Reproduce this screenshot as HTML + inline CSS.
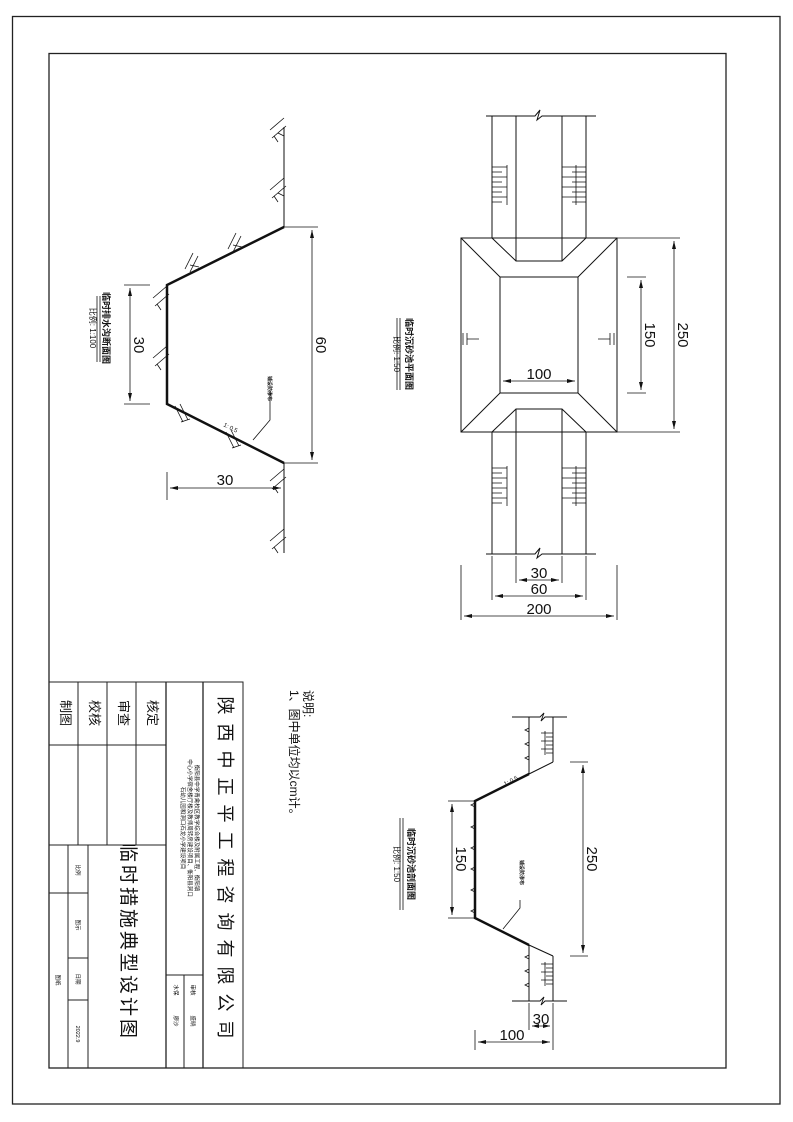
<!DOCTYPE html>
<html><head><meta charset="utf-8"><style>
html,body{margin:0;padding:0;background:#fff}
svg{display:block}
text{font-family:"Liberation Sans","Noto Sans CJK SC",sans-serif;fill:#111}
</style></head><body>
<svg width="793" height="1122" viewBox="0 0 793 1122" xmlns="http://www.w3.org/2000/svg">
<g fill="none" stroke="#222" stroke-width="1">
<rect x="12.5" y="16.5" width="767.5" height="1087.5" stroke-width="1.3"/>
<rect x="49" y="53.5" width="677" height="1014.5" stroke-width="1.3"/>
<rect x="49" y="682" width="194" height="386"/>
<line x1="203" y1="682" x2="203" y2="1068" stroke-width="1.3"/>
<line x1="166" y1="682" x2="166" y2="1068" stroke-width="1.3"/>
<line x1="78" y1="682" x2="78" y2="845"/>
<line x1="107" y1="682" x2="107" y2="845"/>
<line x1="136" y1="682" x2="136" y2="845"/>
<line x1="49" y1="745" x2="166" y2="745"/>
<line x1="49" y1="845" x2="166" y2="845"/>
<line x1="68" y1="845" x2="68" y2="1068"/>
<line x1="88" y1="845" x2="88" y2="1068"/>
<line x1="49" y1="893" x2="88" y2="893"/>
<line x1="68" y1="958" x2="88" y2="958"/>
<line x1="68" y1="1000" x2="88" y2="1000"/>
<line x1="166" y1="975" x2="203" y2="975"/>
<line x1="184" y1="975" x2="184" y2="1068"/>
</g>
<g font-size="13">
<text transform="translate(61,713) rotate(90)" text-anchor="middle">制图</text>
<text transform="translate(90,713) rotate(90)" text-anchor="middle">校核</text>
<text transform="translate(119,713) rotate(90)" text-anchor="middle">审查</text>
<text transform="translate(148,713) rotate(90)" text-anchor="middle">核定</text>
</g>
<text transform="translate(219,872) rotate(90)" text-anchor="middle" font-size="18" letter-spacing="9">陕西中正平工程咨询有限公司</text>
<text transform="translate(122,942) rotate(90)" text-anchor="middle" font-size="19" letter-spacing="3">临时措施典型设计图</text>
<g font-size="5.5">
<text transform="translate(195,828) rotate(90)" text-anchor="middle">衡阳县中学青禽校区教学综合楼及附属工程、衡阳镇</text>
<text transform="translate(188,828) rotate(90)" text-anchor="middle">中心小学宿舍楼厅楼及教师周转房建设项目、衡阳县洞口</text>
<text transform="translate(181,828) rotate(90)" text-anchor="middle">石幼儿园和洞口石龙小学建设项目</text>
<text transform="translate(76,870) rotate(90)" text-anchor="middle">比例</text>
<text transform="translate(76,925) rotate(90)" text-anchor="middle">图示</text>
<text transform="translate(76,979) rotate(90)" text-anchor="middle">日期</text>
<text transform="translate(76,1034) rotate(90)" text-anchor="middle">2022.9</text>
<text transform="translate(56,980) rotate(90)" text-anchor="middle">图纸</text>
<text transform="translate(191,990) rotate(90)" text-anchor="middle">审核</text>
<text transform="translate(191,1021) rotate(90)" text-anchor="middle">盛晓</text>
<text transform="translate(174,990) rotate(90)" text-anchor="middle">水保</text>
<text transform="translate(174,1021) rotate(90)" text-anchor="middle">廖沙</text>
</g>

<g fill="none" stroke="#111">
<line x1="284" y1="127" x2="284" y2="227"/>
<line x1="284" y1="463" x2="284" y2="553"/>
<polyline points="284,227 167,285 167,404 284,463" stroke-width="2.5"/>
<line x1="284" y1="227" x2="318" y2="227" stroke-width="0.8"/>
<line x1="284" y1="463" x2="318" y2="463" stroke-width="0.8"/>
<line x1="312" y1="230" x2="312" y2="460" stroke-width="0.8"/>
<line x1="124" y1="285" x2="150" y2="285" stroke-width="0.8"/>
<line x1="124" y1="404" x2="150" y2="404" stroke-width="0.8"/>
<line x1="130" y1="288" x2="130" y2="401" stroke-width="0.8"/>
<line x1="167" y1="472" x2="167" y2="500" stroke-width="0.8"/>
<line x1="170" y1="488" x2="281" y2="488" stroke-width="0.8"/>
<polyline points="270,390 270,420 253,440" stroke-width="0.8"/>
<line x1="97" y1="296" x2="97" y2="362" stroke-width="0.8"/>
<line x1="100" y1="296" x2="100" y2="362" stroke-width="0.8"/>
<g stroke-width="0.8">
<path d="M270,130 l14,-12 M272,138 l14,-12 M274,136 l4,6 M278,133 l6,3"/>
<path d="M270,190 l14,-12 M272,198 l14,-12 M274,196 l4,6 M278,193 l6,3"/>
<path d="M270,481 l14,-12 M272,489 l14,-12 M274,487 l4,6"/>
<path d="M270,541 l14,-12 M272,549 l14,-12 M274,547 l4,6"/>
<path d="M236,233 l-8,16 M241,236 l-8,16 M233,245 l9,2"/>
<path d="M193,253 l-8,16 M198,256 l-8,16 M190,265 l9,2"/>
<path d="M153,298 l14,-12 M155,306 l14,-12 M157,304 l4,6"/>
<path d="M153,358 l14,-12 M155,366 l14,-12 M157,364 l4,6"/>
<path d="M183,422 l-8,-16 M188,420 l-8,-16 M181,422 l9,-3"/>
<path d="M234,448 l-8,-16 M239,446 l-8,-16 M232,448 l9,-3"/>
</g>
</g>
<g stroke="none" fill="#111">
<path d="M312,230 l-2,8 h4z M312,460 l-2,-8 h4z M130,288 l-2,8 h4z M130,401 l-2,-8 h4z M170,488 l8,-2 v4z M281,488 l-8,-2 v4z"/>
</g>
<text transform="translate(316,345) rotate(90)" text-anchor="middle" font-size="15">60</text>
<text transform="translate(134,345) rotate(90)" text-anchor="middle" font-size="15">30</text>
<text x="225" y="485" text-anchor="middle" font-size="15">30</text>
<text transform="translate(223,426) rotate(27)" font-size="6">1: 0.5</text>
<text transform="translate(268,376) rotate(90)" font-size="5" font-weight="bold">铺设防渗布</text>
<text transform="translate(103,328) rotate(90)" text-anchor="middle" font-size="9" font-weight="bold">临时排水沟断面图</text>
<text transform="translate(90,328) rotate(90)" text-anchor="middle" font-size="8">比例: 1:100</text>

<g fill="none" stroke="#111" stroke-width="1">
<rect x="461" y="238" width="156" height="194"/>
<rect x="500" y="277" width="78" height="116"/>
<line x1="461" y1="238" x2="500" y2="277"/><line x1="617" y1="238" x2="578" y2="277"/>
<line x1="461" y1="432" x2="500" y2="393"/><line x1="617" y1="432" x2="578" y2="393"/>
<line x1="492" y1="116" x2="492" y2="238"/><line x1="586" y1="116" x2="586" y2="238"/>
<line x1="516" y1="116" x2="516" y2="261"/><line x1="562" y1="116" x2="562" y2="261"/>
<polyline points="492,238 516,261 562,261 586,238"/>
<line x1="492" y1="432" x2="492" y2="554"/><line x1="586" y1="432" x2="586" y2="554"/>
<line x1="516" y1="409" x2="516" y2="554"/><line x1="562" y1="409" x2="562" y2="554"/>
<polyline points="492,432 516,409 562,409 586,432"/>
<polyline points="486,116 535,116 540,110 537,120 542,116 596,116"/>
<polyline points="486,554 535,554 540,548 537,558 542,554 596,554"/>
<line x1="617" y1="238" x2="680" y2="238" stroke-width="0.8"/>
<line x1="617" y1="432" x2="680" y2="432" stroke-width="0.8"/>
<line x1="674" y1="241" x2="674" y2="429" stroke-width="0.8"/>
<line x1="627" y1="277" x2="646" y2="277" stroke-width="0.8"/>
<line x1="627" y1="393" x2="646" y2="393" stroke-width="0.8"/>
<line x1="641" y1="280" x2="641" y2="390" stroke-width="0.8"/>
<line x1="503" y1="381" x2="575" y2="381" stroke-width="0.8"/>
<line x1="516" y1="556" x2="516" y2="583" stroke-width="0.8"/>
<line x1="562" y1="556" x2="562" y2="583" stroke-width="0.8"/>
<line x1="492" y1="556" x2="492" y2="600" stroke-width="0.8"/>
<line x1="586" y1="556" x2="586" y2="600" stroke-width="0.8"/>
<line x1="461" y1="565" x2="461" y2="620" stroke-width="0.8"/>
<line x1="617" y1="565" x2="617" y2="620" stroke-width="0.8"/>
<line x1="519" y1="580" x2="559" y2="580" stroke-width="0.8"/>
<line x1="495" y1="596" x2="583" y2="596" stroke-width="0.8"/>
<line x1="464" y1="616" x2="614" y2="616" stroke-width="0.8"/>
<path d="M463,333 v12 M467,333 v12 M467,339 h12 M610,333 v12 M614,333 v12 M598,339 h12" stroke-width="0.8"/>
<g stroke-width="0.8">
<path d="M492,167h15M492,172h10M492,177h15M492,182h10M492,187h15M492,192h10M492,197h15M492,202h10M507,165v40"/>
<path d="M562,167h24M572,172h14M562,177h24M572,182h14M562,187h24M572,192h14M562,197h24M572,202h14M576,165v40"/>
<path d="M492,468h15M492,473h10M492,478h15M492,483h10M492,488h15M492,493h10M492,498h15M492,503h10M507,466v40"/>
<path d="M562,468h24M572,473h14M562,478h24M572,483h14M562,488h24M572,493h14M562,498h24M572,503h14M576,466v40"/>
</g>
<line x1="400" y1="318" x2="400" y2="390" stroke-width="0.8"/>
<line x1="397" y1="318" x2="397" y2="390" stroke-width="0.8"/>
</g>
<g fill="#111">
<path d="M674,241 l-2,8 h4z M674,429 l-2,-8 h4z M641,280 l-2,8 h4z M641,390 l-2,-8 h4z M503,381 l8,-2 v4z M575,381 l-8,-2 v4z M519,580 l8,-2 v4z M559,580 l-8,-2 v4z M495,596 l8,-2 v4z M583,596 l-8,-2 v4z M464,616 l8,-2 v4z M614,616 l-8,-2 v4z"/>
</g>
<text transform="translate(678,335) rotate(90)" text-anchor="middle" font-size="15">250</text>
<text transform="translate(645,335) rotate(90)" text-anchor="middle" font-size="15">150</text>
<text x="539" y="379" text-anchor="middle" font-size="15">100</text>
<text x="539" y="578" text-anchor="middle" font-size="15">30</text>
<text x="539" y="594" text-anchor="middle" font-size="15">60</text>
<text x="539" y="614" text-anchor="middle" font-size="15">200</text>
<text transform="translate(406,354) rotate(90)" text-anchor="middle" font-size="9" font-weight="bold">临时沉砂池平面图</text>
<text transform="translate(394,354) rotate(90)" text-anchor="middle" font-size="8">比例: 1:50</text>

<text transform="translate(304,690) rotate(90)" font-size="12" font-family="Liberation Serif,Noto Serif CJK SC,serif">说明:</text>
<text transform="translate(290,690) rotate(90)" font-size="12" font-family="Liberation Serif,Noto Serif CJK SC,serif">1、图中单位均以cm计。</text>

<g fill="none" stroke="#111">
<polyline points="512,717 540,717 544,713 541,721 545,717 567,717" stroke-width="0.9"/>
<polyline points="512,1001 540,1001 544,997 541,1005 545,1001 567,1001" stroke-width="0.9"/>
<line x1="529" y1="717" x2="529" y2="774"/>
<line x1="553" y1="717" x2="553" y2="762"/>
<line x1="553" y1="762" x2="529" y2="774"/>
<line x1="529" y1="945" x2="529" y2="1001"/>
<line x1="553" y1="956" x2="553" y2="1001"/>
<line x1="553" y1="956" x2="529" y2="945"/>
<polyline points="529,774 475,801 475,918 529,945" stroke-width="2.5"/>
<line x1="570" y1="762" x2="588" y2="762" stroke-width="0.8"/>
<line x1="570" y1="956" x2="588" y2="956" stroke-width="0.8"/>
<line x1="583" y1="765" x2="583" y2="953" stroke-width="0.8"/>
<line x1="448" y1="801" x2="475" y2="801" stroke-width="0.8"/>
<line x1="448" y1="918" x2="475" y2="918" stroke-width="0.8"/>
<line x1="452" y1="804" x2="452" y2="915" stroke-width="0.8"/>
<line x1="475" y1="1030" x2="475" y2="1050" stroke-width="0.8"/>
<line x1="553" y1="1003" x2="553" y2="1050" stroke-width="0.8"/>
<line x1="529" y1="1003" x2="529" y2="1030" stroke-width="0.8"/>
<line x1="532" y1="1026" x2="550" y2="1026" stroke-width="0.8"/>
<line x1="478" y1="1042" x2="550" y2="1042" stroke-width="0.8"/>
<polyline points="520,900 520,908 503,929" stroke-width="0.8"/>
<line x1="403" y1="818" x2="403" y2="910" stroke-width="0.8"/>
<line x1="400" y1="818" x2="400" y2="910" stroke-width="0.8"/>
<g stroke-width="0.8">
<path d="M541,733h12M546,737h7M541,741h12M546,745h7M541,749h12M546,753h7M545,731v24"/>
<path d="M541,964h12M546,968h7M541,972h12M546,976h7M541,980h12M546,984h7M545,962v24"/>
<path d="M525,730l4,-2l0,4zM525,744l4,-2l0,4zM525,758l4,-2l0,4zM525,957l4,-2l0,4zM525,971l4,-2l0,4zM525,985l4,-2l0,4z"/>
<path d="M471,805l4,-2l0,4zM471,827l4,-2l0,4zM471,848l4,-2l0,4zM471,869l4,-2l0,4zM471,890l4,-2l0,4zM471,911l4,-2l0,4z"/>
</g>
</g>
<g fill="#111">
<path d="M583,765 l-2,8 h4z M583,953 l-2,-8 h4z M452,804 l-2,8 h4z M452,915 l-2,-8 h4z M532,1026 l7,-2 v4z M550,1026 l-7,-2 v4z M478,1042 l8,-2 v4z M550,1042 l-8,-2 v4z"/>
</g>
<text transform="translate(587,859) rotate(90)" text-anchor="middle" font-size="15">250</text>
<text transform="translate(456,859) rotate(90)" text-anchor="middle" font-size="15">150</text>
<text x="541" y="1024" text-anchor="middle" font-size="15">30</text>
<text x="512" y="1040" text-anchor="middle" font-size="15">100</text>
<text transform="translate(520,860) rotate(90)" font-size="5" font-weight="bold">铺设防渗布</text>
<text transform="translate(505,786) rotate(-27)" font-size="6">1: 0.5</text>
<text transform="translate(408,864) rotate(90)" text-anchor="middle" font-size="9" font-weight="bold">临时沉砂池剖面图</text>
<text transform="translate(394,864) rotate(90)" text-anchor="middle" font-size="8">比例: 1:50</text>
</svg>
</body></html>
